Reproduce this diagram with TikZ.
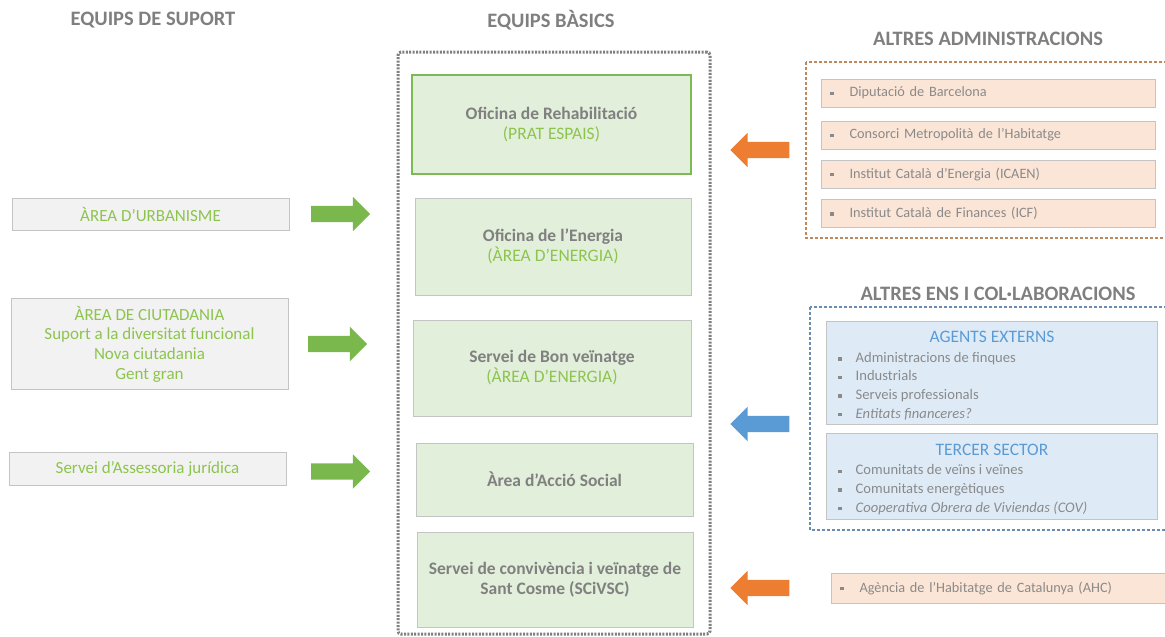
\documentclass[tikz,border=0pt]{standalone}
\usepackage{fontspec}
\setmainfont{Carlito}
\usetikzlibrary{shapes.arrows}
\definecolor{headgray}{HTML}{7F7F7F}
\definecolor{txtgray}{HTML}{808080}
\definecolor{listgray}{HTML}{8A8A8A}
\definecolor{boxgray}{HTML}{C4C4C4}
\definecolor{txtgreen}{HTML}{8DC44E}
\definecolor{greenfill}{HTML}{E2EFDA}
\definecolor{greenline}{HTML}{7DB954}
\definecolor{supfill}{HTML}{F2F2F2}
\definecolor{peach}{HTML}{FBE5D6}
\definecolor{bluefill}{HTML}{DEEBF7}
\definecolor{bluetxt}{HTML}{5B9BD5}
\definecolor{arrgreen}{HTML}{7AB84E}
\definecolor{arrorange}{HTML}{ED7D31}
\definecolor{arrblue}{HTML}{5B9BD5}
\definecolor{brownline}{HTML}{C0875A}
\definecolor{steelline}{HTML}{6A8CB0}
\newcommand{\sqbul}{\textcolor{listgray}{\rule[0.25ex]{3.5pt}{3.5pt}}\hspace{14pt}}
\newcommand{\sqbula}{\textcolor{listgray}{\rule[0.25ex]{3.5pt}{3.5pt}}\hspace{16pt}}
\tikzset{
heading/.style={font=\bfseries\fontsize{20.5}{22}\selectfont, text=headgray, inner sep=0pt},
basic/.style={rectangle, draw=boxgray, fill=greenfill, line width=0.8pt, minimum width=277pt,
  text=txtgray, align=center, inner sep=0pt, font=\bfseries\fontsize{17.5}{20}\selectfont},
support/.style={rectangle, draw=boxgray, fill=supfill, line width=0.8pt, minimum width=277pt,
  text=txtgreen, align=center, inner sep=0pt, font=\fontsize{17}{19.6}\selectfont},
admin/.style={rectangle, draw=boxgray, fill=peach, line width=0.8pt, text width=316pt,
  inner xsep=9pt, inner ysep=0pt, minimum height=28pt, align=left, text=listgray,
  font=\fontsize{14.3}{16}\selectfont},
agent/.style={rectangle, draw=boxgray, fill=bluefill, line width=0.8pt, minimum width=331pt},
agenthead/.style={text=bluetxt, font=\fontsize{17.5}{19}\selectfont, inner sep=0pt},
agentlist/.style={align=left, text=listgray, inner sep=0pt, font=\fontsize{14.6}{18.6}\selectfont},
frame/.style={rectangle, draw=headgray, line width=3pt, dash pattern=on 2pt off 1.4pt,
  rounded corners=3pt},
blockarrow/.style={single arrow, draw=none, minimum height=59pt, inner xsep=0pt, inner ysep=8pt,
  single arrow head extend=9pt}
}

\begin{document}
\begin{tikzpicture}[x=1pt,y=-1pt]
\useasboundingbox (0,0) rectangle (1165,637);

% headings
\node [heading] (hsup) at (153,20) {EQUIPS DE SUPORT};
\node [heading] (hbas) at (551,20) {EQUIPS BÀSICS};
\node [heading] (hadm) at (988,39) {ALTRES ADMINISTRACIONS};
\node [heading] (hens) at (998,294) {ALTRES ENS I COL·LABORACIONS};

% equips basics
\node [frame, minimum width=312pt, minimum height=582pt] (basics) at (554,343) {};
\node [basic, minimum width=279pt, minimum height=99pt, draw=greenline, line width=2.5pt] (rehab) at (551.5,124.5)
  {Oficina de Rehabilitació\\ \textcolor{txtgreen}{\mdseries (PRAT ESPAIS)}};
\node [basic, minimum width=276pt, minimum height=97pt] (energia) at (553,246.5)
  {Oficina de l’Energia\\ \textcolor{txtgreen}{\mdseries (ÀREA D’ENERGIA)}};
\node [basic, minimum width=278pt, minimum height=96pt] (bon) at (552,368)
  {Servei de Bon veïnatge\\ \textcolor{txtgreen}{\mdseries (ÀREA D’ENERGIA)}};
\node [basic, minimum height=73pt] (accio) at (554.5,479.5) {Àrea d’Acció Social};
\node [basic, minimum width=276pt, minimum height=95pt] (scivsc) at (555,579.5)
  {Servei de convivència i veïnatge de\\ Sant Cosme (SCiVSC)};

% equips de suport
\node [support, minimum height=32pt] (urb) at (150.5,214) {ÀREA D’URBANISME};
\node [support, minimum height=91pt] (ciut) at (149.5,344)
  {ÀREA DE CIUTADANIA\\ Suport a la diversitat funcional\\ Nova ciutadania\\ Gent gran};
\node [support, minimum height=33pt] (jur) at (147.5,468.5) {Servei d’Assessoria jurídica};

\node [blockarrow, fill=arrgreen] (a1) at (336.5,214) {};
\node [blockarrow, fill=arrgreen] (a2) at (333.5,344) {};
\node [blockarrow, fill=arrgreen] (a3) at (336.5,471.5) {};

% altres administracions
\draw [brownline, line width=1.5pt, dash pattern=on 3pt off 2pt] (806,62) rectangle (1168,238);
\node [admin] (dip) at (988,93) {\sqbula Diputació de Barcelona};
\node [admin] (cmh) at (988,135) {\sqbula Consorci Metropolità de l’Habitatge};
\node [admin] (icaen) at (988,174) {\sqbula Institut Català d’Energia (ICAEN)};
\node [admin] (icf) at (988,213) {\sqbula Institut Català de Finances (ICF)};
\node [blockarrow, fill=arrorange, shape border rotate=180] (a4) at (764,150) {};

% altres ens
\draw [steelline, line width=1.5pt, dash pattern=on 3pt off 2pt] (810,307) rectangle (1168,530);
\node [agent, minimum height=103pt] (ext) at (991.5,372.5) {};
\node [agenthead] (exth) at (992,337) {AGENTS EXTERNS};
\node [agentlist, anchor=north west] (extl) at (838,352)
  {\sqbul Administracions de finques\\ \sqbul Industrials\\ \sqbul Serveis professionals\\ \sqbul \textit{Entitats financeres?}};
\node [agent, minimum height=86pt] (ter) at (991.5,476) {};
\node [agenthead] (terh) at (992,450) {TERCER SECTOR};
\node [agentlist, anchor=north west] (terl) at (838,464.5)
  {\sqbul Comunitats de veïns i veïnes\\ \sqbul Comunitats energètiques\\ \sqbul \textit{Cooperativa Obrera de Viviendas (COV)}};
\node [blockarrow, fill=arrblue, shape border rotate=180] (a5) at (764,424) {};

% AHC
\node [admin, minimum height=30pt] (ahc) at (998,588) {\sqbula Agència de l’Habitatge de Catalunya (AHC)};
\node [blockarrow, fill=arrorange, shape border rotate=180] (a6) at (764,588) {};
\end{tikzpicture}
\end{document}
